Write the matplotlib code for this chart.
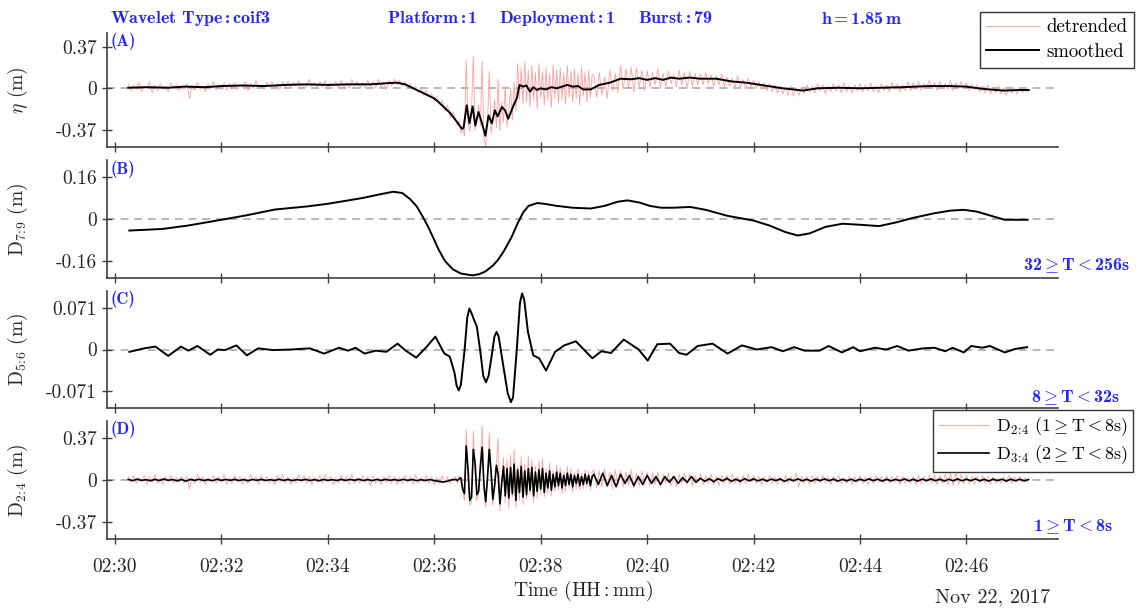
import numpy as np
import matplotlib
matplotlib.use("Agg")
import matplotlib.pyplot as plt

plt.rcParams['font.family'] = ['cmr10', 'DejaVu Serif']
plt.rcParams['mathtext.fontset'] = 'cm'
plt.rcParams['axes.unicode_minus'] = False
plt.rcParams['axes.formatter.use_mathtext'] = True

# ---------------- data (time in minutes after 02:30) ----------------
# sample grid of the raw (pink) series: 3 s, 2 s (bore), 3 s
pink_t = np.concatenate([0.25 + np.arange(123) * 3 / 60,
                         6.4 + np.arange(78) * 2 / 60,
                         9.0 + np.arange(164) * 3 / 60])
# sample grid of the D3:4 series: 5 s, 2 s (bore), 5 s
d34_t = np.concatenate([0.25 + np.arange(74) * 5 / 60,
                        6.4 + np.arange(78) * 2 / 60,
                        9.0 + np.arange(99) * 5 / 60])

# Panel A: detrended eta (cm)
eta_detrended_cm = [
    4, -2, 3, -1, 5, -3, 2, 0, 6, -4, 3, -2, 4, -1, 2, -3, 5, 0, 3, -2,
    2, -1, 4, -9, 3, -2, 5, -1, 2, -3, 4, 0, 6, -2, 3, -1, 5, -2, 4, 0,
    5, -1, 3, 1, 6, -2, 4, 0, 7, 1, 3, -1, 5, 2, 6, 0, 4, -1, 6, 1,
    6, 0, 5, 2, 7, -1, 4, 1, 8, 2, 5, 0, 6, 1, 7, -1, 5, 2, 6, 0,
    7, 1, 5, 0, 8, 2, 6, -1, 5, 1, 7, 2, 6, 0, 8, 1, 5, -1, 7, 2,
    8, 3, 7, 2, 6, 0, 4, -1, 2, -4, 0, -6, -2, -8, -5, -11, -7, -14, -11, -20,
    -15, -26, -21,
    # bore (2 s)
    -27, -33, -29, -40, -34, -42, 25, -30, -38, -20, 28, -37,
    -28, -15, -33, 24, -45, -51, -30, 15, -40, -28, -10, -35,
    8, -38, -12, -30, 2, -34, -20, 0, -28, 5, -20, 22,
    -10, 18, -14, 24, -12, 16, -16, 20, -10, 14, -18, 22,
    -8, 15, -15, 19, -11, 13, -17, 21, -9, 16, -13, 18,
    -10, 14, -14, 20, -8, 15, -12, 17, -9, 13, -15, 19,
    -7, 14, -12, 16, -8, 12,
    # after (3 s)
    12, -8, 14, -6, 10, -9, 16, -2, 13, -4, 20, -1, 17, 0, 19, -3, 18, 1, 16, -2,
    16, 1, 14, 3, 17, 0, 13, 2, 15, 4, 12, 1, 16, 3, 14, 0, 15, 2, 13, 3,
    13, 3, 14, 4, 12, 2, 11, 3, 13, 1, 10, 2, 9, 0, 11, 1, 8, -1, 9, 1,
    7, 0, 6, -1, 5, -2, 4, -3, 3, -4, 2, -5, 1, -6, 2, -7, 0, -6, 1, -5,
    3, -3, 2, -4, 4, -2, 3, -5, 2, -3, 4, -2, 3, -4, 5, -3, 2, -4, 3, -2,
    4, -3, 3, -2, 5, -3, 2, -4, 4, -2, 3, -3, 5, -1, 4, -3, 3, -2, 6, -2,
    5, -1, 6, -2, 4, 0, 7, -1, 5, -2, 6, 0, 4, -1, 7, -2, 5, 0, 6, -1,
    5, -2, 4, -1, 3, -3, 2, -4, 3, -5, 1, -4, 2, -5, 0, -6, 1, -4, 0, -5,
    1, -4, 0, -3,
]

# Panel A: smoothed eta (minutes, cm)
eta_smooth_t = [0.25, 0.6, 1.0, 1.3, 1.7, 2.0, 2.4, 2.8, 3.2, 3.6, 4.0, 4.4, 4.8, 5.1, 5.3,
                5.45, 5.74, 6.0, 6.11, 6.3, 6.43, 6.52, 6.55, 6.61, 6.66, 6.72, 6.77, 6.83,
                6.89, 6.96, 7.02, 7.08, 7.14, 7.19, 7.27, 7.33, 7.39, 7.49, 7.55, 7.6, 7.67,
                7.73, 7.8, 7.86, 7.93, 7.99, 8.1, 8.2, 8.3, 8.4, 8.5, 8.6, 8.7, 8.8, 8.94,
                9.1, 9.3, 9.5, 9.7, 9.85, 10.0, 10.15, 10.3, 10.45, 10.6, 10.8, 11.0, 11.3,
                11.6, 11.86, 12.2, 12.55, 12.93, 13.2, 13.6, 14.0, 14.4, 14.8, 15.3, 15.7,
                16.0, 16.3, 16.7, 17.0, 17.17]
eta_smooth_cm = [0.5, 1, 0.5, 1.5, 1, 2, 2.5, 2, 3, 3.5, 3, 3.5, 3.5, 4.5, 5,
                 3.5, -3, -9, -13.5, -22, -30, -36, -35, -15, -31, -16, -33, -21,
                 -30, -42, -24, -31, -19.5, -25, -16.5, -19.5, -27, -15, -9, 3, 1.5,
                 2.5, -3, 1, -1.5, 0, -1, 1, 0, 1.5, 3, 1.5, 2, -1, -1,
                 3, 5, 8.5, 8, 9, 7.5, 9, 7.5, 9.5, 8.5, 9.5, 8.5, 8.5,
                 6, 5, 2.5, 0, -2, 0, 0.5, 0, 0.5, 1, 2, 2,
                 1.5, -0.5, -2, -1.5, -1.5]

# Panel B: D7:9 (minutes, m)
d79_t = [0.27, 0.89, 1.37, 2.0, 2.47, 3.0, 3.61, 4.0, 4.65, 5.0, 5.23, 5.4, 5.55, 5.67, 5.78,
         5.88, 6.0, 6.08, 6.2, 6.35, 6.5, 6.72, 6.85, 6.96, 7.1, 7.2, 7.3, 7.45, 7.57, 7.67,
         7.77, 7.94, 8.1, 8.3, 8.6, 8.94, 9.2, 9.45, 9.63, 9.85, 10.05, 10.26, 10.5, 10.81,
         11.1, 11.51, 12.0, 12.3, 12.6, 12.83, 13.05, 13.35, 13.67, 14.0, 14.36, 14.7, 14.99,
         15.4, 15.7, 15.95, 16.2, 16.5, 16.72, 17.15]
d79_m = [-0.044, -0.038, -0.025, -0.003, 0.014, 0.036, 0.048, 0.058, 0.080, 0.095, 0.104, 0.099,
         0.075, 0.048, 0.010, -0.028, -0.080, -0.116, -0.160, -0.192, -0.208, -0.215, -0.210,
         -0.200, -0.178, -0.155, -0.125, -0.070, -0.015, 0.025, 0.050, 0.061, 0.057, 0.050,
         0.043, 0.040, 0.050, 0.066, 0.071, 0.063, 0.050, 0.043, 0.043, 0.046, 0.035, 0.012,
         -0.006, -0.025, -0.050, -0.063, -0.055, -0.030, -0.018, -0.022, -0.027, -0.012, 0.004,
         0.022, 0.032, 0.035, 0.028, 0.010, -0.003, -0.003]

# Panel C: D5:6 (minutes, m)
d56_t = [0.27, 0.55, 0.76, 1.0, 1.24, 1.38, 1.55, 1.79, 1.93, 2.07, 2.28, 2.48, 2.69, 2.97,
         3.31, 3.66, 3.93, 4.21, 4.38, 4.52, 4.69, 4.9, 5.1, 5.31, 5.45, 5.66, 5.86, 6.02,
         6.19, 6.29, 6.38, 6.42, 6.46, 6.50, 6.57, 6.62, 6.66, 6.70, 6.75, 6.80, 6.86, 6.92,
         6.97, 7.02, 7.08, 7.13, 7.17, 7.21, 7.30, 7.38, 7.44, 7.48, 7.55, 7.61, 7.65, 7.69,
         7.76, 7.86, 7.97, 8.1, 8.27, 8.44,
         8.66, 8.97, 9.14, 9.32, 9.56, 9.84, 10.01, 10.19, 10.43, 10.6, 10.74, 10.95, 11.23,
         11.51, 11.78, 12.06, 12.34, 12.55, 12.76, 12.96, 13.24, 13.41, 13.66, 13.87, 14.0,
         14.28, 14.49, 14.7, 14.91, 15.19, 15.4, 15.6, 15.74, 15.95, 16.09, 16.3, 16.44,
         16.72, 16.92, 17.14]
d56_m = [-0.004, 0.002, 0.005, -0.011, 0.005, -0.002, 0.006, -0.009, 0.0, -0.001, 0.007, -0.010,
         0.002, -0.001, 0.0, 0.002, -0.007, 0.003, -0.002, 0.003, -0.007, -0.002, -0.004, 0.010,
         -0.001, -0.014, 0.005, 0.022, -0.007, -0.012, -0.040, -0.062, -0.070, -0.060, 0.0,
         0.055, 0.070, 0.062, 0.050, 0.039, 0.0, -0.045, -0.056, -0.045, -0.010, 0.022, 0.030,
         0.022, -0.030, -0.075, -0.090, -0.082, 0.0, 0.080, 0.096, 0.085, 0.030, -0.010, -0.015,
         -0.036, -0.004, 0.007,
         0.014, -0.015, -0.003, -0.006, 0.017, 0.0, -0.019, 0.009, 0.010, -0.006, -0.009, 0.006,
         0.010, -0.007, 0.007, 0.0, 0.004, -0.003, 0.004, -0.002, -0.002, 0.006, -0.005, 0.004,
         -0.003, 0.003, 0.0, 0.006, -0.002, 0.002, 0.003, -0.003, 0.003, -0.005, 0.006, 0.003,
         0.006, -0.005, 0.001, 0.004]

# Panel D: D2:4 (cm) on pink_t
d24_cm = [
    3, -2, 4, -3, 2, -1, 4, -4, 3, -2, 5, -3, 2, -4, 3, -1, 4, -3, 2, -2,
    3, -3, 4, -8, 2, -3, 5, -2, 3, -4, 2, -1, 4, -3, 3, -2, 5, -4, 2, -3,
    4, -2, 3, -4, 2, -3, 5, -1, 3, -4, 4, -2, 3, -3, 2, -4, 4, -2, 5, -3,
    3, -4, 2, -3, 5, -2, 4, -3, 3, -4, 2, -2, 4, -3, 5, -1, 3, -4, 2, -3,
    4, -2, 3, -4, 5, -3, 2, -3, 4, -2, 3, -5, 4, -3, 2, -4, 3, -2, 4, -3,
    3, -4, 2, -3, 4, -2, 3, -4, 5, -3, 2, -2, 4, -3, 3, -4, 2, -3, 4, -2,
    3, -3, 2,
    # bore (2 s)
    3, -3, 4, -2, -10, -18, 44, 5, -22, -20, 43, 10,
    -18, -12, 20, 48, -10, -24, 5, 41, 3, -22, -8, 15,
    37, -27, -5, 20, -20, 18, -25, 22, -15, 27, -24, 12,
    -18, 20, -22, 14, -17, 21, -13, 18, -20, 12, -16, 17,
    -12, 19, -15, 10, -12, 15, -14, 9, -10, 13, -9, 11,
    -12, 8, -10, 12, -7, 10, -11, 7, -8, 10, -9, 6,
    -8, 9, -6, 8, -9, 7,
    # after (3 s)
    9, -7, 8, -6, 10, -5, 7, -8, 9, -4, 8, -6, 7, -5, 9, -7, 6, -5, 8, -4,
    7, -5, 6, -4, 7, -6, 5, -3, 6, -5, 4, -6, 5, -3, 6, -4, 5, -5, 4, -3,
    5, -4, 4, -3, 5, -4, 3, -5, 4, -3, 4, -4, 5, -3, 3, -4, 4, -3, 5, -2,
    4, -3, 3, -4, 3, -2, 4, -3, 3, -4, 2, -3, 4, -3, 3, -2, 6, -6, 3, -3,
    3, -4, 4, -3, 3, -2, 4, -3, 3, -4, 3, -2, 4, -3, 2, -3, 3, -4, 3, -2,
    4, -3, 3, -4, 3, -3, 4, -2, 3, -3, 4, -3, 3, -2, 4, -4, 3, -3, 2, -3,
    3, -4, 4, -3, 3, -2, 4, -3, 5, -4, 4, -3, 5, -4, 6, -5, 6, -4, 5, -3,
    4, -3, 3, -4, 3, -2, 4, -3, 3, -4, 3, -3, 2, -3, 3, -2, 4, -3, 3, -2,
    3, -2, 2, -2,
]

# Panel D: D3:4 (cm) on d34_t
d34_cm = [
    0.5, -0.6, 0.8, -0.4, 0.3, -0.7, 0.6, -0.5, 0.9, -0.3, 0.4, -0.8,
    0.5, -1.0, 0.6, -0.4, 0.7, -0.5, 0.3, -0.6, 0.8, -0.4, 0.5, -0.3,
    0.6, -0.5, 0.4, -0.7, 0.5, -0.3, 0.6, -0.4, 0.3, -0.5, 0.7, -0.4,
    0.5, -0.6, 0.4, -0.3, 0.6, -0.5, 0.4, -0.7, 0.5, -0.4, 0.3, -0.5,
    0.6, -0.4, 0.5, -0.3, 0.7, -0.5, 0.4, -0.6, 0.5, -0.4, 0.6, -0.3,
    0.4, -0.5, 0.6, -0.4, 0.5, -0.6, 0.3, -0.5, 0.4, -0.6, -1.2, -1.8, -1.0, 0.2,
    0.5, -0.5, 1, 2, -8, -12, 30, 10, -18, -15, 27, 15,
    -13, -10, 12, 29, -5, -19, 2, 27, 8, -17, -5, 13,
    5, -21, -3, 12, -14, 10, -16, 11, -12, 14, -18, 9,
    -11, 12, -15, 8, -13, 10, -9, 11, -14, 7, -10, 9,
    -8, 10, -11, 6, -7, 8, -9, 5, -6, 7, -5, 6,
    -7, 4, -5, 6, -4, 5, -6, 4, -3, 5, -5, 3,
    -4, 5, -3, 4, -5, 3,
    5, -4, 6, -5, 4, -6, 5, -3, 4, -5, 3, -4,
    4, -3, 3, -4, 3, -2, 3, -3, 2, -2, 3, -2,
    1.5, -1.2, 1.2, -1.5, 1.2, -0.8, 1.5, -1.2, 0.8, -1.2, 1.2, -0.8,
    1.0, -0.8, 0.8, -1.0, 0.8, -0.6, 1.0, -1.2, 0.8, -0.7, 1.0, -0.8,
    0.7, -1.0, 0.8, -0.6, 1.0, -0.7, 0.8, -1.0, 0.6, -0.8, 0.7, -1.0,
    0.8, -0.7, 1.0, -0.6, 0.8, -1.0, 0.7, -0.8, 0.6, -0.7, 1.0, -0.8,
    0.7, -1.0, 0.8, -0.6, 1.0, -0.7, 0.8, -1.0, 0.7, -0.8, 1.0, -0.7,
    0.8, -0.7, 1.0, -0.8, 0.7, -1.0, 0.8, -0.6, 0.7, -1.0, 0.8, -0.7,
    0.7, -0.8, 0.4,
]

xtick_pos = [0, 2, 4, 6, 8, 10, 12, 14, 16]
xtick_labels = ['02:30', '02:32', '02:34', '02:36', '02:38', '02:40', '02:42', '02:44', '02:46']

# ---------------- figure ----------------
BLUE = '#2424ff'
PINK = '#ffa0a0'
AXC = '0.25'

fig = plt.figure(figsize=(11.38, 6.13), dpi=100)
W, H = 1138, 613
left, right = 107, 1058
panels_px = [(33, 147), (160, 278), (291, 408), (421, 539)]
axes = []
for top, bot in panels_px:
    ax = fig.add_axes([left / W, (H - bot) / H, (right - left) / W, (bot - top) / H])
    axes.append(ax)

ylims = [(-0.52, 0.49), (-0.225, 0.225), (-0.1, 0.1), (-0.52, 0.52)]
yticks = [([-0.37, 0, 0.37], ['-0.37', '0', '0.37']),
          ([-0.16, 0, 0.16], ['-0.16', '0', '0.16']),
          ([-0.071, 0, 0.071], ['-0.071', '0', '0.071']),
          ([-0.37, 0, 0.37], ['-0.37', '0', '0.37'])]
ylabels = [r'$\eta$ (m)', r'D$_{7\!:\!9}$ (m)', r'D$_{5\!:\!6}$ (m)', r'D$_{2\!:\!4}$ (m)']
plabels = ['(A)', '(B)', '(C)', '(D)']

for i, ax in enumerate(axes):
    ax.set_xlim(-0.15, 17.72)
    ax.set_ylim(*ylims[i])
    ax.axhline(0, color='0.72', ls=(0, (4, 3)), lw=1.4, zorder=0)
    for s in ['top', 'right']:
        ax.spines[s].set_visible(False)
    for s in ['left', 'bottom']:
        ax.spines[s].set_color(AXC)
        ax.spines[s].set_linewidth(1.2)
    ax.set_xticks(xtick_pos)
    ax.set_yticks(yticks[i][0])
    ax.set_yticklabels(yticks[i][1])
    ax.tick_params(direction='inout', length=7, width=1, color=AXC,
                   labelsize=14, labelcolor='0.15', pad=4)
    if i < 3:
        ax.set_xticklabels([])
    else:
        ax.set_xticklabels(xtick_labels)
        ax.tick_params(axis='x', pad=10)
    ax.set_ylabel(ylabels[i], fontsize=14, color='0.15')
    ax.yaxis.set_label_coords(-0.081, 0.5)
    ax.text(0.004, 1.0, plabels[i], transform=ax.transAxes, va='top', ha='left',
            fontsize=12, color=BLUE, fontfamily='cmb10')

# Panel A
axA = axes[0]
lA1, = axA.plot(pink_t, np.array(eta_detrended_cm) / 100, color=PINK, lw=0.6)
lA2, = axA.plot(eta_smooth_t, np.array(eta_smooth_cm) / 100, color='k', lw=1.4)
fig.legend([lA1, lA2], ['detrended', 'smoothed'], loc='upper right',
           bbox_to_anchor=(1134 / W, 1 - 12 / H), fontsize=13.5, frameon=True,
           fancybox=False, edgecolor='0.2', framealpha=1, handlelength=2.8,
           borderpad=0.35, labelspacing=0.35, handletextpad=0.4, borderaxespad=0)

# Panel B
axes[1].plot(d79_t, d79_m, color='k', lw=1.4)
# Panel C
axes[2].plot(d56_t, d56_m, color='k', lw=1.4)
# Panel D
axD = axes[3]
lD1, = axD.plot(pink_t, np.array(d24_cm) / 100, color=PINK, lw=0.6)
lD2, = axD.plot(d34_t, np.array(d34_cm) / 100, color='k', lw=1.2)
fig.legend([lD1, lD2], [r'D$_{2\!:\!4}$ (1$\geq$T$<$8s)', r'D$_{3\!:\!4}$ (2$\geq$T$<$8s)'],
           loc='upper right', bbox_to_anchor=(1133 / W, 1 - 410 / H), fontsize=13,
           frameon=True, fancybox=False, edgecolor='0.2', framealpha=1,
           handlelength=2.8, borderpad=0.3, labelspacing=0.3, handletextpad=0.4,
           borderaxespad=0)

# period labels
fig.text(1130 / W, 1 - 265 / H, r'32$\geq$T$<$256s', ha='right', va='center',
         color=BLUE, fontsize=13, fontfamily='cmb10')
fig.text(1120 / W, 1 - 398 / H, r'8$\geq$T$<$32s', ha='right', va='center',
         color=BLUE, fontsize=13, fontfamily='cmb10')
fig.text(1113 / W, 1 - 527 / H, r'1$\geq$T$<$8s', ha='right', va='center',
         color=BLUE, fontsize=13, fontfamily='cmb10')

# header
hdr = [(110, r'Wavelet Type$\,$:$\,$coif3'), (387, r'Platform$\,$:$\,$1'),
       (499, r'Deployment$\,$:$\,$1'), (638, r'Burst$\,$:$\,$79'),
       (821, r'h$\,$=$\,$1.85$\,$m')]
for x, s in hdr:
    fig.text(x / W, 1 - 18 / H, s, ha='left', va='center', color=BLUE, fontsize=13,
             fontfamily='cmb10')

fig.text((left + right) / 2 / W, 1 - 591 / H, 'Time (HH$:$mm)', ha='center', va='center',
         fontsize=14, color='0.15')
fig.text(1050 / W, 1 - 597 / H, 'Nov 22, 2017', ha='right', va='center', fontsize=14.5,
         color='0.15')

fig.savefig('out.png', dpi=100)
